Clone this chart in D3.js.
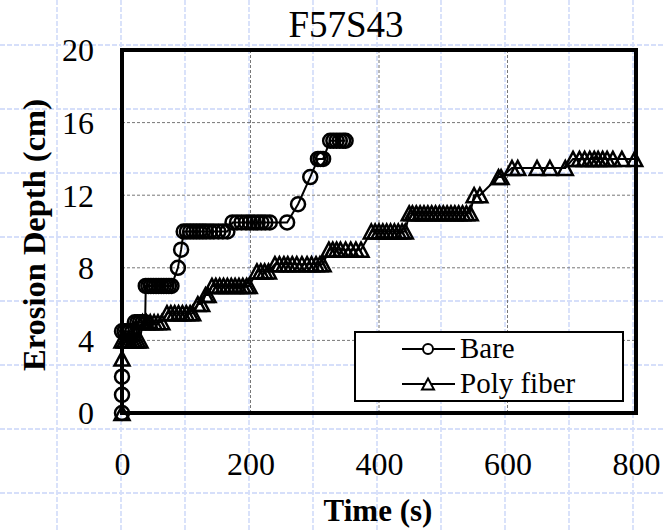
<!DOCTYPE html>
<html>
<head>
<meta charset="utf-8">
<script src="https://cdn.jsdelivr.net/npm/d3@7"></script>
<style>
  body { margin: 0; background: #fff; }
  svg text { font-family: "Liberation Serif", "Times New Roman", Tinos, "Nimbus Roman", "DejaVu Serif", serif; font-weight: 400; fill: #000; }
</style>
</head>
<body>
<div id="chart"></div>
<script>
// data
var bareTime  = [0, 0, 0, 0, 4, 8, 12, 16, 20, 24, 28, 32, 36,
                 37, 41, 45, 49, 53, 57, 61, 65, 69, 73, 77,
                 87, 92, 96, 101, 106, 111, 116, 121, 126, 131, 137, 143, 150, 157, 164,
                 172, 179, 186, 193, 199, 205, 211, 217, 223, 230,
                 257, 274, 293, 305, 309, 313, 324, 329, 334, 339, 344, 348];
var bareDepth = [0, 1, 2, 4.5, 4.5, 4.5, 4.5, 4.5, 5, 5, 5, 5, 5,
                 7, 7, 7, 7, 7, 7, 7, 7, 7, 7, 7,
                 8, 9, 10, 10, 10, 10, 10, 10, 10, 10, 10, 10, 10, 10, 10,
                 10.5, 10.5, 10.5, 10.5, 10.5, 10.5, 10.5, 10.5, 10.5, 10.5,
                 10.5, 11.5, 13, 14, 14, 14, 15, 15, 15, 15, 15, 15];

var polyTime  = [0, 0, 0, 4, 8, 12, 16, 20, 24, 28,
                 32, 38, 44, 50, 56, 62,
                 70, 76, 82, 88, 94, 100, 106, 110,
                 118, 124, 130, 134,
                 140, 146, 152, 158, 164, 170, 176, 182, 188, 194, 198,
                 210, 216, 222, 228,
                 238, 245, 252, 258, 265, 272, 280, 288, 295, 302, 308, 313,
                 322, 328, 334, 340, 348, 356, 364, 372,
                 388, 394, 400, 406, 412, 418, 424, 430, 436, 441,
                 447, 452, 458, 464, 470, 476, 482, 488, 494, 500, 506, 512, 518, 524, 530, 536, 542,
                 548, 557, 586, 590,
                 607, 616, 646, 666, 690,
                 702, 712, 720, 728, 735, 741, 748, 755, 764, 778, 798];
var polyDepth = [0, 3, 4, 4, 4, 4, 4, 4, 4, 4,
                 5, 5, 5, 5, 5, 5,
                 5.5, 5.5, 5.5, 5.5, 5.5, 5.5, 5.5, 5.5,
                 6, 6, 6.5, 6.5,
                 7, 7, 7, 7, 7, 7, 7, 7, 7, 7, 7,
                 7.8, 7.8, 7.8, 7.8,
                 8.2, 8.2, 8.2, 8.2, 8.2, 8.2, 8.2, 8.2, 8.2, 8.2, 8.2, 8.2,
                 9, 9, 9, 9, 9, 9, 9, 9,
                 10, 10, 10, 10, 10, 10, 10, 10, 10, 10,
                 11, 11, 11, 11, 11, 11, 11, 11, 11, 11, 11, 11, 11, 11, 11, 11, 11,
                 12, 12, 13, 13,
                 13.5, 13.5, 13.5, 13.5, 13.5,
                 14, 14, 14, 14, 14, 14, 14, 14, 14, 14, 14];

var xTicks = [0, 200, 400, 600, 800];
var yTicks = [0, 4, 8, 12, 16, 20];
var xGrid = [200, 400, 600];
var yGrid = [4, 8, 12, 16];
var seriesNames = ["Bare", "Poly fiber"];

var FONT = '"Liberation Serif", "Times New Roman", Tinos, "Nimbus Roman", "DejaVu Serif", serif';

var W = 665, H = 530;
var svg = d3.select("#chart").append("svg")
	.attr("width", W)
	.attr("height", H);

// graph paper in the background
var paper = svg.append("g");
for (var gx = 57; gx < W; gx += 64) {
	paper.append("line").attr("x1", gx).attr("x2", gx).attr("y1", 0).attr("y2", H)
		.attr("stroke", "#d6dffa").attr("stroke-width", 1.8).attr("stroke-dasharray", "5,2");
}
for (var gy = 45; gy < H; gy += 64) {
	paper.append("line").attr("x1", 0).attr("x2", W).attr("y1", gy).attr("y2", gy)
		.attr("stroke", "#d6dffa").attr("stroke-width", 1.8).attr("stroke-dasharray", "5,2");
}

var x = d3.scaleLinear().domain([0, 800]).range([122, 636]);
var y = d3.scaleLinear().domain([0, 20]).range([413, 50]);

// dashed grid
svg.selectAll(".vgrid").data(xGrid).enter().append("line")
	.attr("x1", function(d){ return x(d); }).attr("x2", function(d){ return x(d); })
	.attr("y1", y(20)).attr("y2", y(0))
	.attr("stroke", "#777").attr("stroke-width", 1).attr("stroke-dasharray", "3,2");
svg.selectAll(".hgrid").data(yGrid).enter().append("line")
	.attr("x1", x(0)).attr("x2", x(800))
	.attr("y1", function(d){ return y(d); }).attr("y2", function(d){ return y(d); })
	.attr("stroke", "#777").attr("stroke-width", 1).attr("stroke-dasharray", "3,2");

// axes, labels only
var xAxis = svg.append("g").attr("transform", "translate(0," + y(0) + ")")
	.call(d3.axisBottom(x).tickValues(xTicks).tickSize(0).tickFormat(d3.format("d")));
xAxis.attr("font-family", null);
xAxis.select(".domain").remove();
xAxis.selectAll("text").attr("y", 62).attr("dy", 0)
	.style("font-family", FONT).style("font-size", "32px").attr("fill", "#000");

var yAxis = svg.append("g").attr("transform", "translate(94,0)")
	.call(d3.axisLeft(y).tickValues(yTicks).tickSize(0).tickPadding(0).tickFormat(d3.format("d")));
yAxis.attr("font-family", null);
yAxis.select(".domain").remove();
yAxis.selectAll("text").attr("x", 0).attr("dy", "0.34em")
	.style("font-family", FONT).style("font-size", "32px").attr("fill", "#000");

// series
var tri = function(w, h){ return "M0," + (-h/2) + "L" + (w/2) + "," + (h/2) + "L" + (-w/2) + "," + (h/2) + "Z"; };

var line = d3.line().x(function(d){ return x(d[0]); }).y(function(d){ return y(d[1]); });
var bare = d3.zip(bareTime, bareDepth);
var poly = d3.zip(polyTime, polyDepth);

svg.append("path").datum(poly).attr("d", line)
	.attr("fill", "none").attr("stroke", "#000").attr("stroke-width", 2);
svg.selectAll(".ptri").data(poly).enter().append("path")
	.attr("d", tri(15, 14))
	.attr("transform", function(d){ return "translate(" + x(d[0]) + "," + y(d[1]) + ")"; })
	.attr("fill", "none").attr("stroke", "#000").attr("stroke-width", 2.5);

svg.append("path").datum(bare).attr("d", line)
	.attr("fill", "none").attr("stroke", "#000").attr("stroke-width", 2);
svg.selectAll(".bcirc").data(bare).enter().append("circle")
	.attr("cx", function(d){ return x(d[0]); })
	.attr("cy", function(d){ return y(d[1]); })
	.attr("r", 7)
	.attr("fill", "none").attr("stroke", "#000").attr("stroke-width", 2.5);

// frame
svg.append("rect").attr("x", 122).attr("y", 50).attr("width", 514).attr("height", 363)
	.attr("fill", "none").attr("stroke", "#000").attr("stroke-width", 4);

// title and axis titles
svg.append("text").attr("x", 346).attr("y", 37).attr("text-anchor", "middle")
	.style("font-family", FONT).style("font-size", "37px").text("F57S43");
svg.append("text").attr("x", 378).attr("y", 521).attr("text-anchor", "middle")
	.style("font-family", FONT).style("font-size", "31px").style("font-weight", "bold").text("Time (s)");
svg.append("text").attr("transform", "translate(45,235) rotate(-90)").attr("text-anchor", "middle")
	.style("font-family", FONT).style("font-size", "32.5px").style("font-weight", "bold").text("Erosion Depth (cm)");

// legend
var lg = svg.append("g");
lg.append("rect").attr("x", 355).attr("y", 332).attr("width", 268).attr("height", 69)
	.attr("fill", "#fff").attr("stroke", "#000").attr("stroke-width", 2);
seriesNames.forEach(function(name, i){
	var ly = 349 + i * 35;
	lg.append("line").attr("x1", 402).attr("x2", 455).attr("y1", ly).attr("y2", ly)
		.attr("stroke", "#000").attr("stroke-width", 2);
	if (i == 0) {
		lg.append("circle").attr("cx", 428).attr("cy", ly).attr("r", 5)
			.attr("fill", "#fff").attr("stroke", "#000").attr("stroke-width", 2);
	} else {
		lg.append("path").attr("d", tri(12, 11)).attr("transform", "translate(428," + ly + ")")
			.attr("fill", "#fff").attr("stroke", "#000").attr("stroke-width", 2);
	}
	lg.append("text").attr("x", 460).attr("y", ly + 9)
		.style("font-family", FONT).style("font-size", "29px").text(name);
});
</script>
</body>
</html>
